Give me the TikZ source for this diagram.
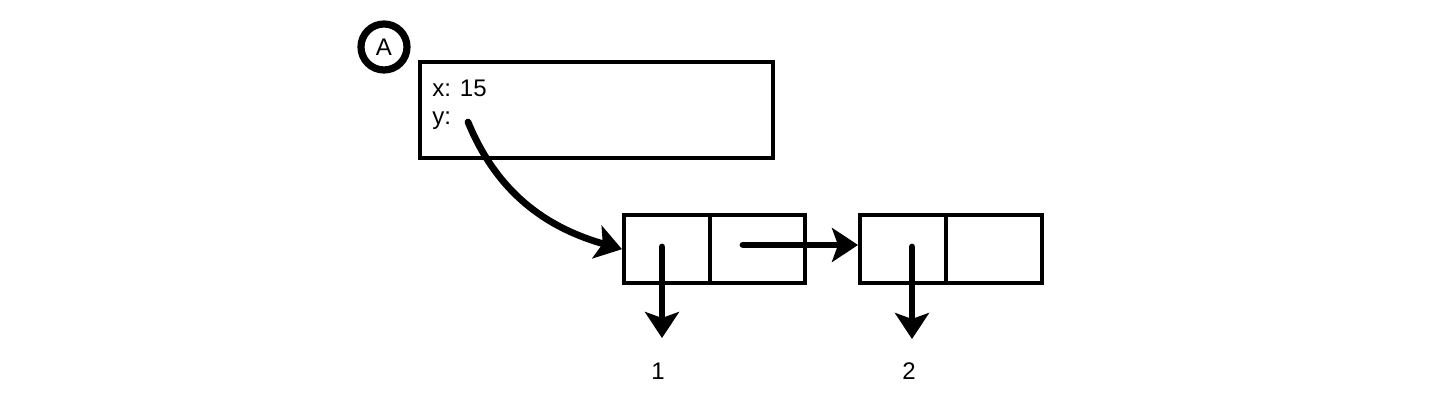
\documentclass[tikz,border=0pt]{standalone}
\usepackage{fontspec}
\setmainfont{Liberation Sans}
\usetikzlibrary{arrows.meta}
\begin{document}
\begin{tikzpicture}[x=0.5pt,y=-0.5pt,
  box/.style={draw=black,line width=2.2pt,rectangle,inner sep=0pt,anchor=north west},
  lbl/.style={font=\fontsize{12}{14}\selectfont,inner sep=0pt},
  ptr/.style={line width=3.4pt,line cap=round,-{Stealth[length=13pt,width=17pt,inset=3pt]}},
  ring/.style={draw=black,line width=3.6pt,circle,minimum size=23pt,inner sep=0pt}]
\useasboundingbox (0,0) rectangle (1448,410);
% object A
\node[ring,font=\fontsize{12}{14}\selectfont] (circA) at (384,47) {A};
\node[box,minimum width=176.5pt,minimum height=48pt] (objA) at (418,60) {};
\node[lbl,anchor=west] (xt) at (432,88) {x: 15};
\node[lbl,anchor=west] (yt) at (432,121) {y:};
\coordinate (ystart) at (468,122);
% list node 1
\node[box,minimum width=90.5pt,minimum height=34pt] (n1) at (622,213) {};
\draw[line width=2.2pt] (710,213) coordinate (d1t) -- (710,281) coordinate (d1b);
% list node 2
\node[box,minimum width=91pt,minimum height=34pt] (n2) at (858,213) {};
\draw[line width=2.2pt] (946,213) coordinate (d2t) -- (946,281) coordinate (d2b);
% values
\node[lbl] (v1) at (658,371) {1};
\node[lbl] (v2) at (909,371) {2};
\coordinate (n1val) at (662,247);
\coordinate (n1next) at (743,245);
\coordinate (n2val) at (912,247);
\coordinate (v1top) at (662,338);
\coordinate (v2top) at (912,339);
% pointers
\draw[ptr] (ystart) .. controls (500,200) and (555,230) .. (n1.west);
\draw[ptr] (n1next) -- (n2.west |- n1next);
\draw[ptr] (n1val) -- (v1top);
\draw[ptr] (n2val) -- (v2top);
\end{tikzpicture}
\end{document}
